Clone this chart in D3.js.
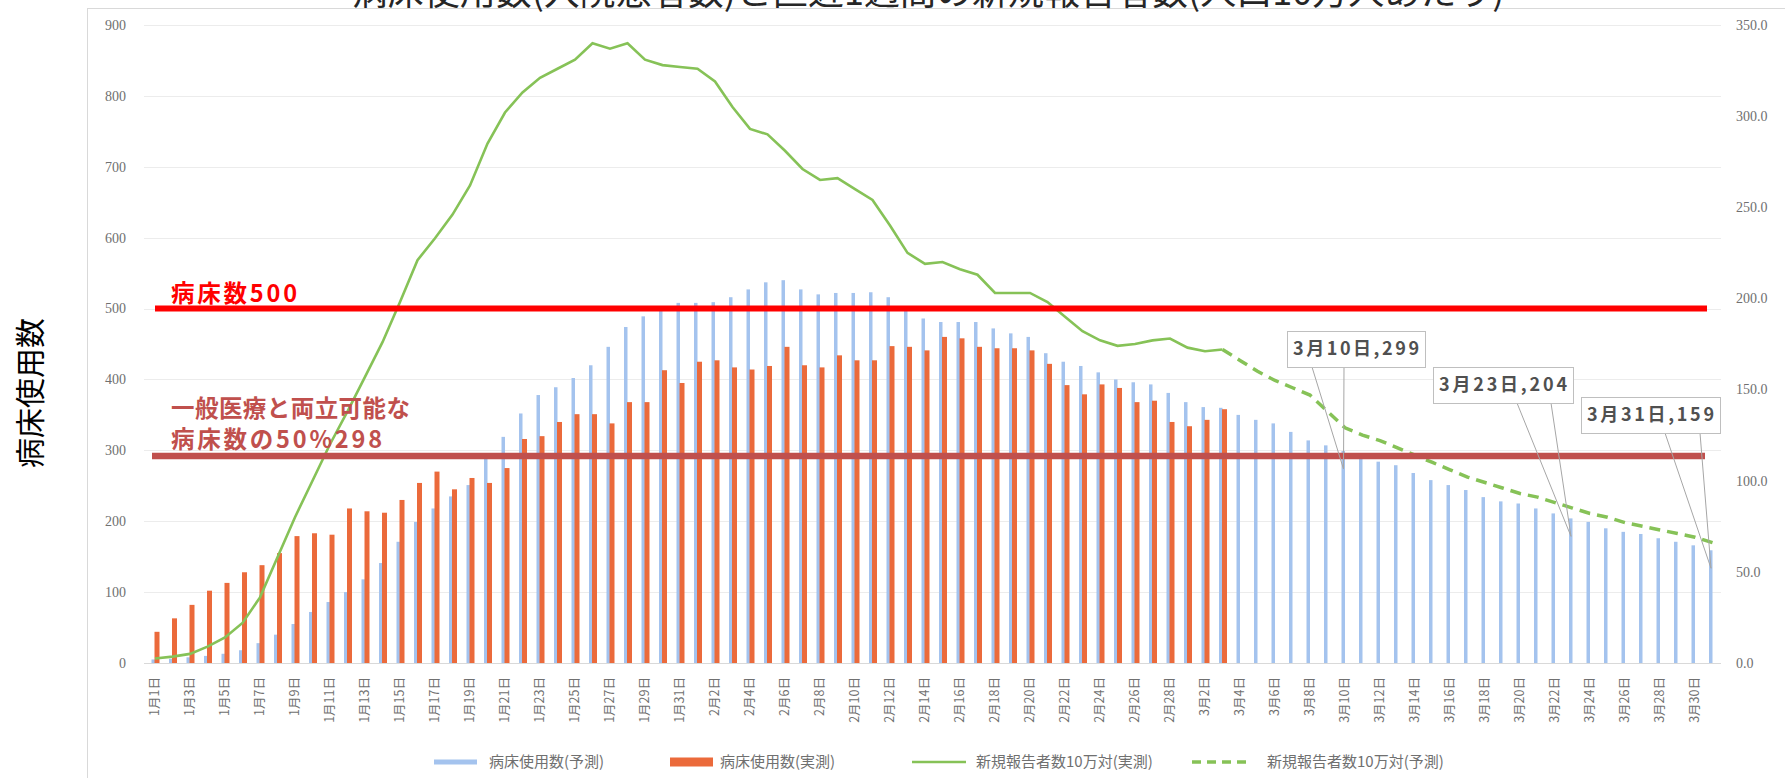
<!DOCTYPE html>
<html>
<head>
<meta charset="utf-8">
<script src="https://cdn.jsdelivr.net/npm/d3@7"></script>
<style>
  body { margin: 0; background: #fff; }
  svg { display: block; }
</style>
</head>
<body>
<div id="chart"></div>
<script>
// categories: 1月1日 .. 3月31日
var monthDays = [[1, 31], [2, 28], [3, 31]];
var dates = [];
monthDays.forEach(function(m) {
  for (var d = 1; d <= m[1]; d++) dates.push(m[0] + "月" + d + "日");
});

// 病床使用数(予測) - all 90 days
var bedForecast = [
  5, 6, 8, 10, 13, 18, 28, 40, 55, 72, 86, 100, 118, 141, 171, 199, 218, 235, 251, 289,
  319, 352, 378, 389, 402, 420, 446, 474, 489, 498, 508,
  508, 509, 516, 527, 537, 540, 527, 520, 522, 522, 523, 516, 497, 486, 481, 481, 481, 472,
  465, 460, 437, 425, 419, 410, 400, 396, 393, 381,
  368, 361, 360, 350, 343, 338, 326, 314, 307, 299, 289, 284, 279, 268, 258, 251, 244, 234,
  228, 225, 218, 211, 204, 199, 190, 185, 182, 176, 171, 166, 159
];
// 病床使用数(実測) - 1月1日 .. 3月3日
var bedActual = [
  44, 63, 82, 102, 113, 128, 138, 155, 179, 183, 181, 218, 214, 212, 230, 254, 270, 245, 261, 254,
  275, 316, 320, 340, 351, 351, 338, 368, 368, 413, 395,
  425, 427, 417, 414, 419, 446, 420, 417, 434, 427, 427, 447, 446, 441, 460, 458, 446, 444,
  444, 441, 422, 392, 379, 393, 388, 368, 370, 340,
  334, 343, 358
];
// 新規報告者数10万対(実測) - 1月1日 .. 3月3日
var casesActual = [
  2.5, 3.5, 5, 9, 14, 22, 36, 58, 80, 100, 120, 138, 157, 176, 198, 221, 233, 246, 262, 285,
  302, 313, 321, 326, 331, 340, 337, 340, 331, 328, 327,
  326, 319, 305, 293, 290, 281, 271, 265, 266, 260, 254, 240, 225, 219, 220, 216, 213, 203,
  203, 203, 198, 190, 182, 177, 174, 175, 177, 178,
  173, 171, 172
];
// 新規報告者数10万対(予測) - 3月3日 .. 3月31日
var casesForecast = [
  172, 166, 160, 155, 151, 147, 138, 129, 125, 122, 118, 114, 110, 106, 102, 99, 96, 93,
  91, 88, 85, 82, 80, 77, 75, 73, 71, 69, 66
];

var bedLimit = 500;      // 病床数500
var bedHalf = 292;       // drawn line for 病床数の50%298
var calloutDates = ["3月10日", "3月23日", "3月31日"];

var W = 1785, H = 778;
var svg = d3.select("#chart").append("svg")
  .attr("width", W)
  .attr("height", H)
  .style("font-family", "'Noto Sans CJK JP', sans-serif");

svg.append("rect").attr("width", W).attr("height", H).attr("fill", "#fff");

// chart frame
svg.append("rect")
  .attr("x", 87.5).attr("y", 8.5)
  .attr("width", W).attr("height", H)
  .attr("fill", "none").attr("stroke", "#d9d9d9");

var x = d3.scaleBand().domain(dates).range([146.25, 1721.25]);
var yL = d3.scaleLinear().domain([0, 900]).range([663, 25]);
var yR = d3.scaleLinear().domain([0, 350]).range([663, 25]);
function cx(d) { return x(d) + x.bandwidth() / 2; }

// gridlines
svg.append("g").selectAll("line")
  .data(yL.ticks(9))
  .enter().append("line")
    .attr("x1", 144).attr("x2", 1721)
    .attr("y1", function(d) { return Math.round(yL(d)) + 0.5; })
    .attr("y2", function(d) { return Math.round(yL(d)) + 0.5; })
    .attr("stroke", function(d) { return d === 0 ? "#d9d9d9" : "#ececec"; });

// left labels
svg.append("g").selectAll("text")
  .data(yL.ticks(9))
  .enter().append("text")
    .attr("x", 126)
    .attr("y", function(d) { return yL(d); })
    .attr("dy", "0.35em")
    .attr("text-anchor", "end")
    .style("font-family", "'Liberation Serif', serif")
    .style("font-size", "14px")
    .attr("fill", "#707070")
    .text(function(d) { return d; });

// right labels
svg.append("g").selectAll("text")
  .data(yR.ticks(7))
  .enter().append("text")
    .attr("x", 1736)
    .attr("y", function(d) { return yR(d); })
    .attr("dy", "0.35em")
    .style("font-family", "'Liberation Serif', serif")
    .style("font-size", "14px")
    .attr("fill", "#707070")
    .text(d3.format(".1f"));

// x labels, every other day
svg.append("g").selectAll("text")
  .data(dates.filter(function(d, i) { return i % 2 === 0; }))
  .enter().append("text")
    .attr("transform", function(d) { return "translate(" + (cx(d) + 4) + ",677) rotate(-90)"; })
    .attr("text-anchor", "end")
    .style("font-size", "12.5px")
    .attr("fill", "#707070")
    .text(function(d) { return d; });

// bars
svg.append("g").selectAll("rect")
  .data(bedForecast)
  .enter().append("rect")
    .attr("x", function(d, i) { return cx(dates[i]) - 3.5; })
    .attr("width", 3.5)
    .attr("y", function(d) { return yL(d); })
    .attr("height", function(d) { return yL(0) - yL(d); })
    .attr("fill", "#a4c3ee");

svg.append("g").selectAll("rect")
  .data(bedActual)
  .enter().append("rect")
    .attr("x", function(d, i) { return cx(dates[i]) - 0.5; })
    .attr("width", 5)
    .attr("y", function(d) { return yL(d); })
    .attr("height", function(d) { return yL(0) - yL(d); })
    .attr("fill", "#eb6a3b");

// green lines
var line = d3.line()
  .x(function(d) { return cx(d.date); })
  .y(function(d) { return yR(d.v); });

var actualPts = casesActual.map(function(v, i) { return {date: dates[i], v: v}; });
var startF = casesActual.length - 1;
var forecastPts = casesForecast.map(function(v, i) { return {date: dates[startF + i], v: v}; });

svg.append("path")
  .datum(actualPts)
  .attr("d", line)
  .attr("fill", "none")
  .attr("stroke", "#86c257")
  .attr("stroke-width", 2.6);

svg.append("path")
  .datum(forecastPts)
  .attr("d", line)
  .attr("fill", "none")
  .attr("stroke", "#86c257")
  .attr("stroke-width", 3.5)
  .attr("stroke-dasharray", "11,7");

// reference lines
svg.append("line")
  .attr("x1", 155).attr("x2", 1707)
  .attr("y1", yL(bedLimit)).attr("y2", yL(bedLimit))
  .attr("stroke", "#ff0000").attr("stroke-width", 6);

svg.append("line")
  .attr("x1", 152).attr("x2", 1705)
  .attr("y1", yL(bedHalf)).attr("y2", yL(bedHalf))
  .attr("stroke", "#c0504d").attr("stroke-width", 6.5);

var refTexts = [
  {t: "病床数500", y: 302, len: 126, c: "#ff0000"},
  {t: "一般医療と両立可能な", y: 417, len: 239, c: "#c0504d"},
  {t: "病床数の50%298", y: 448, len: 211, c: "#c0504d"}
];
svg.append("g").selectAll("text")
  .data(refTexts)
  .enter().append("text")
    .attr("x", 171)
    .attr("y", function(d) { return d.y; })
    .attr("textLength", function(d) { return d.len; })
    .attr("lengthAdjust", "spacing")
    .style("font-size", "23.5px").style("font-weight", "bold")
    .attr("fill", function(d) { return d.c; })
    .text(function(d) { return d.t; });

// callouts
var calloutBoxes = [
  {x: 1287, y: 331, w: 138, b1: 1312, b2: 1344},
  {x: 1433, y: 367, w: 140, b1: 1517, b2: 1551},
  {x: 1581, y: 397, w: 139, b1: 1665, b2: 1700}
];
calloutDates.forEach(function(d, k) {
  var box = calloutBoxes[k];
  var v = bedForecast[dates.indexOf(d)];
  var tipX = cx(d) - 1.5, tipY = yL(v) + 18;
  var g = svg.append("g");
  g.append("path")
    .attr("d", "M" + box.b1 + "," + (box.y + 36) + "L" + tipX + "," + tipY + "L" + box.b2 + "," + (box.y + 36))
    .attr("fill", "none").attr("stroke", "#a6a6a6").attr("stroke-width", 1);
  g.append("rect")
    .attr("x", box.x + 0.5).attr("y", box.y + 0.5)
    .attr("width", box.w).attr("height", 36)
    .attr("fill", "#fff").attr("stroke", "#bfbfbf");
  g.append("text")
    .attr("x", box.x + 6).attr("y", box.y + 18)
    .attr("dy", "0.35em")
    .attr("textLength", box.w - 12)
    .attr("lengthAdjust", "spacing")
    .style("font-size", "18px").style("font-weight", "bold")
    .attr("fill", "#505050")
    .text(d + "," + v);
});

// y axis title
svg.append("text")
  .attr("transform", "translate(30,393) rotate(-90)")
  .attr("text-anchor", "middle")
  .attr("dy", "0.35em")
  .style("font-size", "30px")
  .attr("fill", "#000")
  .text("病床使用数");

// legend
var legendY = 762;
svg.append("rect").attr("x", 434).attr("y", legendY - 2.5).attr("width", 43).attr("height", 5).attr("fill", "#a4c3ee");
svg.append("rect").attr("x", 670).attr("y", legendY - 4.5).attr("width", 43).attr("height", 9).attr("fill", "#eb6a3b");
svg.append("line").attr("x1", 912).attr("x2", 966).attr("y1", legendY).attr("y2", legendY)
  .attr("stroke", "#86c257").attr("stroke-width", 2.6);
svg.append("line").attr("x1", 1192).attr("x2", 1252).attr("y1", legendY).attr("y2", legendY)
  .attr("stroke", "#86c257").attr("stroke-width", 3.5).attr("stroke-dasharray", "9,6");

var legendItems = [
  {x: 489, t: "病床使用数(予測)"},
  {x: 720, t: "病床使用数(実測)"},
  {x: 976, t: "新規報告者数10万対(実測)"},
  {x: 1267, t: "新規報告者数10万対(予測)"}
];
svg.append("g").selectAll("text")
  .data(legendItems)
  .enter().append("text")
    .attr("x", function(d) { return d.x; })
    .attr("y", legendY)
    .attr("dy", "0.35em")
    .style("font-size", "15px")
    .attr("fill", "#707070")
    .text(function(d) { return d.t; });

// title (cut off at top in the original)
svg.append("text")
  .attr("x", 928).attr("y", 5)
  .attr("text-anchor", "middle")
  .style("font-size", "36px")
  .attr("fill", "#262626")
  .text("病床使用数(入院患者数)と直近1週間の新規報告者数(人口10万人あたり)");
</script>
</body>
</html>
